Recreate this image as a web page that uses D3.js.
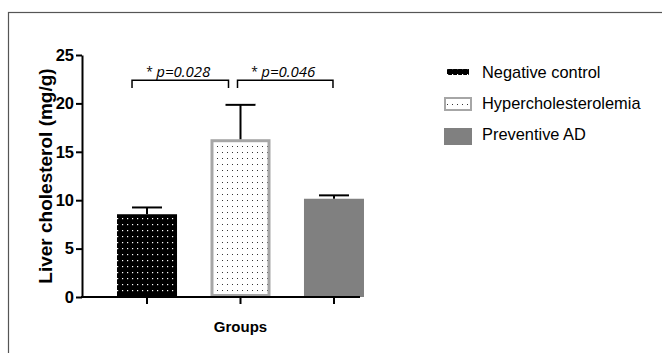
<!DOCTYPE html>
<html>
<head>
<meta charset="utf-8">
<script src="https://cdn.jsdelivr.net/npm/d3@7"></script>
<style>
  html, body { margin: 0; padding: 0; background: #fff; }
  svg { display: block; }
</style>
</head>
<body>
<div id="chart"></div>
<script>
// Data
const groups = ['Negative control', 'Hypercholesterolemia', 'Preventive AD'];
const means = [8.55, 16.3, 10.15];
const sems = [0.7, 3.55, 0.35];
const yTicks = [0, 5, 10, 15, 20, 25];
const comparisons = [
    { from: 0, to: 1, label: 'p=0.028' },
    { from: 1, to: 2, label: 'p=0.046' }
];

const width = 662, height = 353;
const svg = d3.select('#chart').append('svg')
    .attr('width', width)
    .attr('height', height)
    .style('font-family', '"Liberation Sans", Arial, sans-serif');

// Patterns for bar fills
const defs = svg.append('defs');
const darkDots = defs.append('pattern')
    .attr('id', 'darkDots')
    .attr('patternUnits', 'userSpaceOnUse')
    .attr('width', 5).attr('height', 6);
darkDots.append('rect').attr('width', 5).attr('height', 6).attr('fill', '#000');
darkDots.append('rect').attr('x', 2).attr('y', 2).attr('width', 1.2).attr('height', 1.2).attr('fill', '#fff');

const lightDots = defs.append('pattern')
    .attr('id', 'lightDots')
    .attr('patternUnits', 'userSpaceOnUse')
    .attr('width', 5).attr('height', 6);
lightDots.append('rect').attr('width', 5).attr('height', 6).attr('fill', '#fff');
lightDots.append('rect').attr('x', 2).attr('y', 2).attr('width', 1).attr('height', 1).attr('fill', '#333');

const barStyles = [
    { fill: 'url(#darkDots)', stroke: 'none', sw: 0 },
    { fill: 'url(#lightDots)', stroke: '#a6a6a6', sw: 3 },
    { fill: '#808080', stroke: 'none', sw: 0 }
];

// Outer frame
svg.append('rect')
    .attr('x', 8.5).attr('y', 12.5)
    .attr('width', 700).attr('height', 400)
    .attr('fill', 'none')
    .attr('stroke', '#555')
    .attr('stroke-width', 1.2);

// Scales
const y = d3.scaleLinear().domain([0, 25]).range([297, 55]);
const x = d3.scaleBand().domain(groups).range([100, 381]).paddingInner(0.358).paddingOuter(0.182);
const axisX0 = 82, axisX1 = 360;

// Bars
const bars = svg.append('g');
bars.selectAll('rect')
    .data(groups)
    .join('rect')
    .attr('x', (d, i) => x(d) + barStyles[i].sw / 2)
    .attr('y', (d, i) => y(means[i]) + barStyles[i].sw / 2)
    .attr('width', (d, i) => x.bandwidth() - barStyles[i].sw)
    .attr('height', (d, i) => y(0) - y(means[i]) - barStyles[i].sw)
    .attr('fill', (d, i) => barStyles[i].fill)
    .attr('stroke', (d, i) => barStyles[i].stroke)
    .attr('stroke-width', (d, i) => barStyles[i].sw);

// Error bars (upper only)
const errG = svg.append('g').attr('stroke', '#000').attr('stroke-width', 2);
groups.forEach((g, i) => {
    const cx = x(g) + x.bandwidth() / 2;
    errG.append('line')
        .attr('x1', cx).attr('x2', cx)
        .attr('y1', y(means[i])).attr('y2', y(means[i] + sems[i]));
    errG.append('line')
        .attr('x1', cx - 15).attr('x2', cx + 15)
        .attr('y1', y(means[i] + sems[i])).attr('y2', y(means[i] + sems[i]));
});

// Y axis
const yAxis = svg.append('g')
    .attr('transform', `translate(${axisX0},0)`)
    .call(d3.axisLeft(y).tickValues(yTicks).tickSize(6).tickSizeOuter(0).tickPadding(2));
yAxis.select('.domain').attr('stroke-width', 2);
yAxis.selectAll('.tick line').attr('stroke-width', 2);
yAxis.selectAll('.tick text')
    .attr('font-size', 16.5)
    .attr('font-weight', 'bold')
    .attr('font-family', '"Liberation Sans", Arial, sans-serif')
    .attr('fill', '#000');

// X axis
const xAxis = svg.append('g')
    .attr('transform', `translate(0,${y(0)})`)
    .call(d3.axisBottom(x).tickSize(7).tickFormat(''));
xAxis.select('.domain').remove();
xAxis.selectAll('.tick line').attr('stroke-width', 2);
svg.append('line')
    .attr('x1', axisX0 - 1).attr('x2', axisX1)
    .attr('y1', y(0)).attr('y2', y(0))
    .attr('stroke', '#000').attr('stroke-width', 2);

// Axis titles
svg.append('text')
    .attr('transform', `translate(52,${(y(0) + y(25)) / 2}) rotate(-90)`)
    .attr('text-anchor', 'middle')
    .attr('font-size', 19)
    .attr('font-weight', 'bold')
    .text('Liver cholesterol (mg/g)');

svg.append('text')
    .attr('x', x(groups[1]) + x.bandwidth() / 2)
    .attr('y', 332)
    .attr('text-anchor', 'middle')
    .attr('font-size', 15)
    .attr('font-weight', 'bold')
    .text('Groups');

// Significance brackets
const brG = svg.append('g');
comparisons.forEach(c => {
    const x1 = c.from === 0
        ? x(groups[c.from]) + x.bandwidth() / 2 - 15
        : x(groups[c.from]) + x.bandwidth() / 2 - 3;
    const x2 = c.from === 0
        ? x(groups[c.to]) + x.bandwidth() / 2 - 12
        : x(groups[c.to]) + x.bandwidth() / 2 - 1;
    brG.append('path')
        .attr('d', `M${x1},${y(21.6)}V${y(22.4)}H${x2}V${y(21.6)}`)
        .attr('fill', 'none')
        .attr('stroke', '#000')
        .attr('stroke-width', 1.5);
    const mid = (x1 + x2) / 2;
    brG.append('text')
        .attr('x', mid - 34)
        .attr('y', 76)
        .attr('font-size', 12)
        .attr('font-family', '"Open Sans", sans-serif')
        .text('*');
    brG.append('text')
        .attr('x', mid - 24)
        .attr('y', 77)
        .attr('font-size', 15)
        .attr('font-style', 'italic')
        .attr('font-family', '"Open Sans", sans-serif')
        .text(c.label);
});

// Legend
const legendSw = [
    { x: 447, y: 69, w: 22, h: 6, fill: 'url(#darkDots)', stroke: 'none', sw: 0 },
    { x: 445, y: 98, w: 26, h: 12, fill: 'url(#lightDots)', stroke: '#a6a6a6', sw: 2 },
    { x: 444, y: 128, w: 28, h: 17, fill: '#808080', stroke: 'none', sw: 0 }
];
const legend = svg.append('g');
groups.forEach((g, i) => {
    const s = legendSw[i];
    legend.append('rect')
        .attr('x', s.x).attr('y', s.y)
        .attr('width', s.w).attr('height', s.h)
        .attr('fill', s.fill)
        .attr('stroke', s.stroke)
        .attr('stroke-width', s.sw);
    legend.append('text')
        .attr('x', 482)
        .attr('y', 78 + i * 31)
        .attr('font-size', 16.4)
        .attr('fill', '#000')
        .text(g);
});
</script>
</body>
</html>
